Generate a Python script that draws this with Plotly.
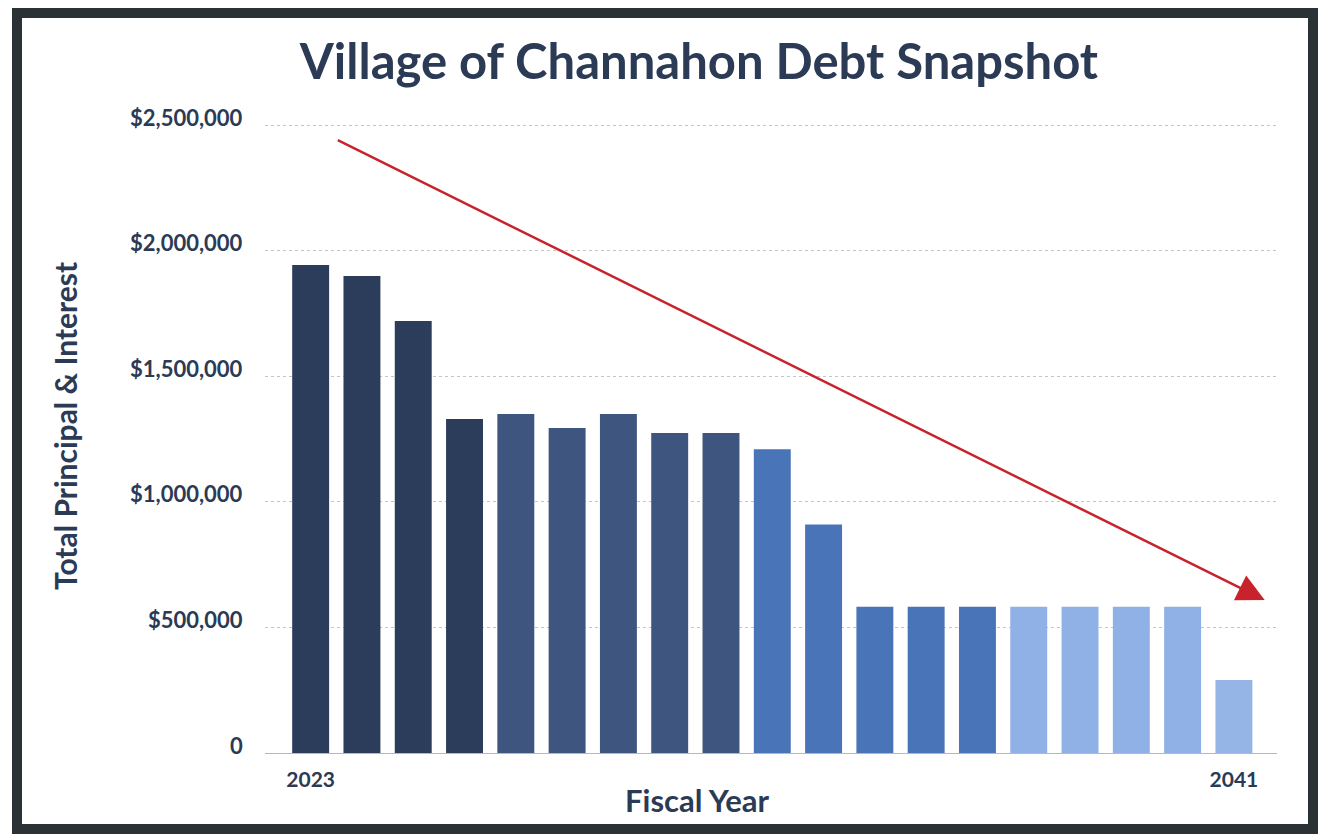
import plotly.graph_objects as go

years = list(range(2023, 2042))
values = [1943000, 1900000, 1720000, 1330000, 1350000, 1294000, 1350000, 1274000,
          1274000, 1210000, 910000, 582000, 582000, 582000, 582000, 582000, 582000,
          582000, 291000]
bar_colors = (["#2c3d5b"] * 4 + ["#3e5580"] * 5 + ["#4a74b8"] * 5 +
              ["#8fb1e5"] * 4 + ["#94b5e6"])
y_tickvals = [0, 500000, 1000000, 1500000, 2000000, 2500000]
y_ticktext = ["0", "$500,000", "$1,000,000", "$1,500,000", "$2,000,000", "$2,500,000"]
x_tickvals = [2023, 2041]

TXT = "#2b3a55"
FONT = "Lato, 'Open Sans', sans-serif"

fig = go.Figure()
fig.add_trace(go.Bar(x=years, y=values, marker=dict(color=bar_colors, line=dict(width=0)),
                     width=0.72, hoverinfo="x+y"))

fig.update_layout(
    width=1325, height=838,
    margin=dict(l=265, r=48, t=124, b=85),
    paper_bgcolor="white", plot_bgcolor="white",
    showlegend=False,
    title=dict(text="<b>Village of Channahon Debt Snapshot</b>",
               x=0.5275, xanchor="center", y=1 - 62 / 838, yanchor="middle",
               font=dict(family=FONT, size=49, color=TXT)),
    xaxis=dict(range=[2022.11, 2041.84], tickvals=x_tickvals,
               ticktext=["<b>2023</b>", "<b>2041</b>"],
               tickfont=dict(family=FONT, size=21, color=TXT),
               showgrid=False, zeroline=False, showline=False, ticks="",
               ticklabelstandoff=12),
    yaxis=dict(range=[0, 2505000], tickvals=y_tickvals,
               showticklabels=False,
               showgrid=True, gridcolor="#c4c4c4", gridwidth=1, griddash="dot",
               zeroline=True, zerolinecolor="#b8b8b8", zerolinewidth=1,
               showline=False, ticks=""),
)

# y tick labels (sit slightly above their gridlines, as in the original)
for v, t in zip(y_tickvals, y_ticktext):
    fig.add_annotation(text="<b>%s</b>" % t, xref="paper", yref="y", x=0, y=v,
                       xanchor="right", yanchor="middle", xshift=-20, yshift=8,
                       showarrow=False, font=dict(family=FONT, size=22, color=TXT))

# axis titles
fig.add_annotation(text="<b>Fiscal Year</b>", xref="paper", yref="paper",
                   x=(697 - 265) / 1012, y=(753 - 800) / 629,
                   xanchor="center", yanchor="middle", showarrow=False,
                   font=dict(family=FONT, size=31, color=TXT))
fig.add_annotation(text="<b>Total Principal &amp; Interest</b>", xref="paper", yref="paper",
                   x=(65 - 265) / 1012, y=(753 - 426) / 629, textangle=-90,
                   xanchor="center", yanchor="middle", showarrow=False,
                   font=dict(family=FONT, size=30, color=TXT))

# trend arrow
fig.add_annotation(x=2041.6, y=609000, ax=2023.5, ay=2444000,
                   xref="x", yref="y", axref="x", ayref="y",
                   showarrow=True, arrowhead=2, arrowsize=2.2, arrowwidth=2.5,
                   arrowcolor="#c8232c", text="")

# frame
fig.add_shape(type="rect", xref="paper", yref="paper",
              x0=(17 - 265) / 1012, x1=(1313 - 265) / 1012,
              y0=(753 - 829) / 629, y1=(753 - 13) / 629,
              line=dict(color="#2a3236", width=10), fillcolor="rgba(0,0,0,0)",
              layer="above")

fig.write_html("out.html")
